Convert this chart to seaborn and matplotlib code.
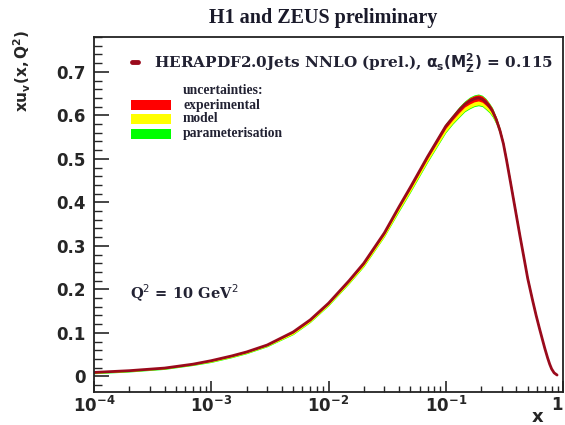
import numpy as np
import pandas as pd
import matplotlib
matplotlib.use('Agg')
import matplotlib.pyplot as plt
from matplotlib.patches import Rectangle
from matplotlib.lines import Line2D
from matplotlib.ticker import FixedLocator, LogLocator, NullFormatter, MultipleLocator
import seaborn as sns

# ── Data ──────────────────────────────────────────────────────────────────────
x_vals = [1e-4, 2e-4, 4e-4, 7e-4, 1e-3, 1.5e-3, 2e-3, 3e-3, 5e-3, 7e-3,
          1e-2, 1.5e-2, 2e-2, 3e-2, 4e-2, 5e-2, 7e-2, 0.1, 0.115, 0.13,
          0.145, 0.16, 0.175, 0.19, 0.205, 0.22, 0.235, 0.25, 0.27, 0.29,
          0.31, 0.33, 0.36, 0.4, 0.43, 0.47, 0.5, 0.55, 0.59, 0.63,
          0.67, 0.7, 0.74, 0.77, 0.8, 0.84, 0.89]
xuv = [0.009, 0.013, 0.019, 0.028, 0.036, 0.047, 0.056, 0.072, 0.102, 0.130,
       0.168, 0.220, 0.260, 0.330, 0.390, 0.435, 0.505, 0.575, 0.595, 0.612,
       0.625, 0.633, 0.638, 0.640, 0.637, 0.630, 0.621, 0.610, 0.590, 0.565,
       0.535, 0.497, 0.440, 0.370, 0.322, 0.265, 0.225, 0.175, 0.140, 0.110,
       0.083, 0.064, 0.042, 0.028, 0.017, 0.008, 0.003]
exp_err = [0.001, 0.001, 0.001, 0.001, 0.001, 0.001, 0.001, 0.001, 0.002, 0.002,
           0.002, 0.002, 0.003, 0.003, 0.003, 0.004, 0.004, 0.005, 0.005, 0.006,
           0.006, 0.007, 0.007, 0.007, 0.007, 0.007, 0.006, 0.006, 0.005, 0.005,
           0.004, 0.004, 0.004, 0.004, 0.003, 0.003, 0.003, 0.003, 0.002, 0.002,
           0.002, 0.002, 0.001, 0.001, 0.001, 0.001, 0.001]
model_lo = [0.001, 0.001, 0.001, 0.001, 0.002, 0.002, 0.002, 0.002, 0.003, 0.003,
            0.003, 0.004, 0.004, 0.005, 0.006, 0.006, 0.007, 0.008, 0.008, 0.009,
            0.009, 0.009, 0.009, 0.009, 0.008, 0.008, 0.007, 0.006, 0.005, 0.004,
            0.003, 0.003, 0.002, 0.002, 0.002, 0.002, 0.001, 0.001, 0.001, 0.001,
            0.001, 0.001, 0.001, 0.000, 0.000, 0.000, 0.000]
param_err = [0.001, 0.001, 0.001, 0.001, 0.001, 0.001, 0.001, 0.001, 0.001, 0.001,
             0.001, 0.001, 0.001, 0.001, 0.002, 0.002, 0.002, 0.002, 0.002, 0.002,
             0.002, 0.002, 0.002, 0.002, 0.002, 0.002, 0.002, 0.002, 0.001, 0.001,
             0.001, 0.001, 0.001, 0.001, 0.001, 0.001, 0.001, 0.001, 0.001, 0.001,
             0.000, 0.000, 0.000, 0.000, 0.000, 0.000, 0.000]

y_ticks = [0, 0.1, 0.2, 0.3, 0.4, 0.5, 0.6, 0.7]
y_tick_labels = ['0', '0.1', '0.2', '0.3', '0.4', '0.5', '0.6', '0.7']
x_ticks = [1e-4, 1e-3, 1e-2, 1e-1, 1]
x_tick_labels = [r'$\mathbf{10^{-4}}$', r'$\mathbf{10^{-3}}$', r'$\mathbf{10^{-2}}$',
                 r'$\mathbf{10^{-1}}$', r'$\mathbf{1}$']

df = pd.DataFrame({'x': x_vals, 'xuv': xuv, 'exp': exp_err,
                   'model': model_lo, 'par': param_err})

LINE_COL = '#9a0a1c'
TXT_COL = '#222233'
SERIF = ['DejaVu Serif']
SERIF_N = ['Liberation Serif', 'DejaVu Serif']
SANS = ['DejaVu Sans']

sns.set_style('ticks')
plt.rcParams['font.family'] = SANS
plt.rcParams['mathtext.fontset'] = 'dejavusans'

W, H = 565, 425
fig = plt.figure(figsize=(W / 100, H / 100), dpi=100)
ax = fig.add_axes([94 / W, 1 - 392 / H, (563 - 94) / W, (392 - 37) / H])

def fx(px):
    return px / W

def fy(py):
    return 1 - py / H

# ── Bands: total (green), exp+model (yellow), exp (red) ───────────────────────
lo_exp = df['xuv'] - df['exp']
hi_exp = df['xuv'] + df['exp']
lo_mod = lo_exp - df['model']
ax.fill_between(df['x'], lo_mod - df['par'], hi_exp + df['par'], color='#00ff00', lw=0)
ax.fill_between(df['x'], lo_mod, hi_exp, color='#ffff00', lw=0)
ax.fill_between(df['x'], lo_exp, hi_exp, color='#ff0000', lw=0)
sns.lineplot(data=df, x='x', y='xuv', ax=ax, color=LINE_COL, lw=2.0)

ax.set_xscale('log')
ax.set_xlim(1e-4, 1)
ax.set_ylim(-0.036, 0.78)
ax.set_xlabel('')
ax.set_ylabel('')

# ── Axes style (ROOT look) ────────────────────────────────────────────────────
for s in ax.spines.values():
    s.set_linewidth(1.3)
    s.set_color('#222222')

ax.xaxis.set_major_locator(FixedLocator(x_ticks))
ax.set_xticklabels(x_tick_labels)
ax.get_xticklabels()[-1].set_horizontalalignment('right')
ax.xaxis.set_minor_locator(LogLocator(base=10, subs=np.arange(2, 10), numticks=20))
ax.xaxis.set_minor_formatter(NullFormatter())
ax.yaxis.set_major_locator(FixedLocator(y_ticks))
ax.set_yticklabels(y_tick_labels, fontweight='bold')
ax.yaxis.set_minor_locator(MultipleLocator(0.02))

ax.tick_params(axis='x', which='major', direction='in', length=8, width=1.2,
               labelsize=12, pad=3, top=False)
ax.tick_params(axis='x', which='minor', direction='in', length=4, width=1.0, top=False)
ax.tick_params(axis='y', which='major', direction='in', length=11, width=1.2,
               labelsize=12, pad=6, right=False)
ax.tick_params(axis='y', which='minor', direction='in', length=5.5, width=1.0, right=False)

# ── Texts ─────────────────────────────────────────────────────────────────────
fig.text(fx(323), fy(18), 'H1 and ZEUS preliminary', family=SERIF_N,
         fontweight='bold', fontsize=14.5, ha='center', va='center', color='#1a1a2a')
fig.text(fx(22), fy(30), r'$\mathbf{xu_v(x,Q^2)}$', rotation=90, fontsize=11,
         ha='center', va='top')
fig.text(fx(538), fy(417), 'x', fontweight='bold', fontsize=13, ha='center',
         va='center')
fig.text(fx(130), fy(293), r'Q$^2$ = 10 GeV$^2$', family=SERIF, fontweight='bold',
         fontsize=10.5, ha='left', va='center', color=TXT_COL)

# ── Legend (manual, ROOT style) ───────────────────────────────────────────────
fig.add_artist(Line2D([fx(132), fx(138)], [fy(62), fy(62)], color=LINE_COL, lw=3.5))
fig.text(fx(154), fy(63), r'HERAPDF2.0Jets NNLO (prel.), $\mathbf{\alpha_s(M_Z^2)}$ = 0.115',
         family=SERIF, fontweight='bold', fontsize=11.0, ha='left', va='center',
         color=TXT_COL)
fig.text(fx(183), fy(90), 'uncertainties:', family=SERIF_N, fontweight='bold',
         fontsize=9.8, ha='left', va='center', color=TXT_COL)
legend_rows = [('experimental', '#ff0000', 105), ('model', '#ffff00', 119),
               ('parameterisation', '#00ff00', 134)]
for lab, col, py in legend_rows:
    fig.add_artist(Rectangle((fx(131), fy(py + 5)), fx(171) - fx(131), fy(py - 5) - fy(py + 5),
                             transform=fig.transFigure, facecolor=col, edgecolor='none'))
    fig.text(fx(183), fy(py), lab, family=SERIF_N, fontweight='bold', fontsize=9.8,
             ha='left', va='center', color=TXT_COL)

fig.savefig('out.png', dpi=100)
